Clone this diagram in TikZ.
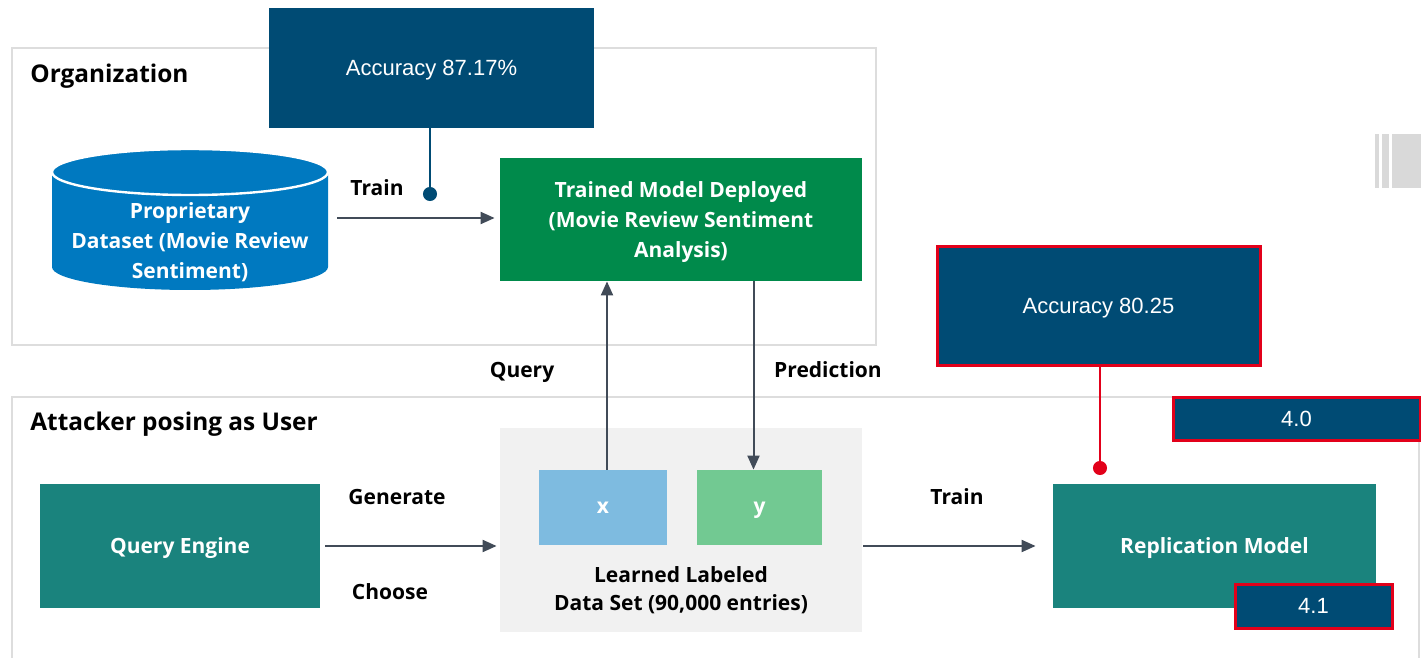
\documentclass[tikz,border=0pt]{standalone}
\usepackage{fontspec}
\setmainfont{Open Sans}
\newfontfamily\arialf{Liberation Sans}
\usetikzlibrary{arrows.meta,calc}
\definecolor{dblue}{HTML}{004B74}
\definecolor{teal}{HTML}{1A837D}
\definecolor{mgreen}{HTML}{008A4B}
\definecolor{cylblue}{HTML}{0079C0}
\definecolor{lblue}{HTML}{7EBBE0}
\definecolor{lgreen}{HTML}{72C992}
\definecolor{arrc}{HTML}{414B58}
\definecolor{frame}{HTML}{DDDDDD}
\definecolor{lgray}{HTML}{F1F1F1}
\definecolor{bar}{HTML}{D9D9D9}
\definecolor{alert}{HTML}{E2001A}
\tikzset{
  box/.style={rectangle, inner sep=0pt, align=center, text depth=0pt, text=white, font=\bfseries\fontsize{10.5}{15}\selectfont},
  accbox/.style={rectangle, inner sep=0pt, align=center, text depth=0pt, fill=dblue, text=white, font=\arialf\fontsize{11}{13}\selectfont},
  redbox/.style={accbox, draw=alert, line width=1.5pt},
  lbl/.style={font=\bfseries\fontsize{10.5}{13}\selectfont, text depth=0pt, text=black, inner sep=0pt},
  title/.style={font=\bfseries\fontsize{12.2}{14}\selectfont, text depth=0pt, text=black, inner sep=0pt, anchor=west},
  arr/.style={draw=arrc, line width=1pt, -{Triangle[length=7pt,width=6pt]}},
  pin/.style={line width=1pt, -{Circle[length=7pt]}},
}
\begin{document}
\begin{tikzpicture}[x=0.5pt,y=-0.5pt]
\useasboundingbox (0,0) rectangle (1421,658);
% frames
\draw[frame, line width=1pt] (12,48) rectangle (876,345);
\draw[frame, line width=1pt] (12,658) -- (12,397) -- (1419,397) -- (1419,658);
\node[title] (org) at (30,73) {Organization};
\node[title] (att) at (30,421) {Attacker posing as User};
% grey bars
\fill[bar] (1375,134) rectangle (1379,188);
\fill[bar] (1382,134) rectangle (1389,188);
\fill[bar] (1392,134) rectangle (1421,188);
% cylinder
\fill[cylblue] (52,172) -- (52,267) arc[start angle=180, end angle=0, x radius=138, y radius=23] -- (328,172) -- cycle;
\draw[white, line width=1.2pt, fill=cylblue] (190,172) ellipse [x radius=138, y radius=23];
\node[box, anchor=center] (ds) at (190,241) {Proprietary\\Dataset (Movie Review\\Sentiment)};
\coordinate (dsE) at (337,218);
% boxes
\node[accbox, minimum width=162.5pt, minimum height=60pt] (acc1) at (431.5,68) {Accuracy 87.17\%};
\node[box, fill=mgreen, minimum width=181pt, minimum height=61.5pt] (tm) at (681,219.5) {Trained Model Deployed\\(Movie Review Sentiment\\Analysis)};
\node[redbox, minimum width=161.5pt, minimum height=59pt] (acc2) at (1098.5,306) {Accuracy 80.25};
\node[box, fill=teal, minimum width=140pt, minimum height=62pt] (qe) at (180,546) {Query Engine};
\node[box, fill=teal, minimum width=161.5pt, minimum height=62pt] (rm) at (1214.5,546) {Replication Model};
\node[redbox, minimum width=123.5pt, minimum height=21.5pt] (v40) at (1296.5,418.5) {4.0};
\node[redbox, minimum width=78.5pt, minimum height=22pt] (v41) at (1313.5,606) {4.1};
\node[rectangle, fill=lgray, minimum width=181pt, minimum height=102pt, inner sep=0pt] (lds) at (681,530) {};
\node[box, fill=lblue, minimum width=64pt, minimum height=37.5pt] (xb) at (603,507.5) {x};
\node[box, fill=lgreen, minimum width=62.5pt, minimum height=37.5pt] (yb) at (759.5,507.5) {y};
\node[lbl, align=center, font=\bfseries\fontsize{10.5}{14}\selectfont] (ldst) at (681,589) {Learned Labeled\\Data Set (90,000 entries)};
% labels
\node[lbl] (l1) at (377,188) {Train};
\node[lbl] (l2) at (522,370) {Query};
\node[lbl] (l3) at (828,370) {Prediction};
\node[lbl] (l4) at (397,497) {Generate};
\node[lbl] (l5) at (390,592) {Choose};
\node[lbl] (l6) at (957,497) {Train};
% connectors
\draw[arr] (dsE) -- ($(tm.west |- dsE)+(-5,0)$);
\coordinate (dot1) at (430,201);
\coordinate (dot2) at (1100,475);
\draw[dblue, pin] (acc1.south -| dot1) -- (dot1);
\draw[alert, pin] (acc2.south -| dot2) -- (dot2);
\draw[arr] ($(xb.north)+(4,0)$) -- ($(xb.north |- tm.south)+(4,0)$);
\draw[arr] ($(yb.north |- tm.south)+(-6,0)$) -- ($(yb.north)+(-6,0)$);
\coordinate (qeE) at (325,546);
\draw[arr] (qeE) -- ($(lds.west |- qeE)+(-3,0)$);
\coordinate (ldsE) at (863,546);
\draw[arr] (ldsE) -- ($(rm.west |- ldsE)+(-17,0)$);
\end{tikzpicture}
\end{document}
